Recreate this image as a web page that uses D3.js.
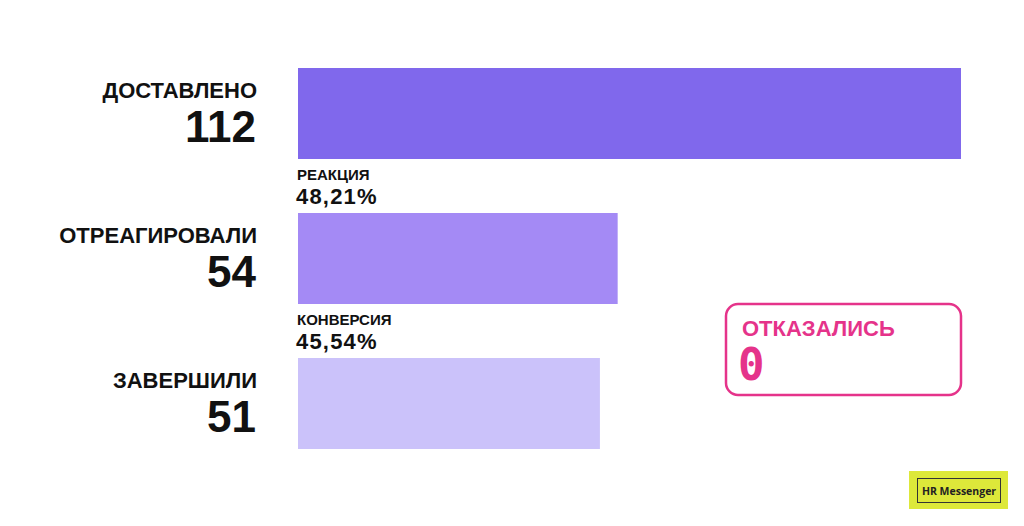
<!DOCTYPE html>
<html><head><meta charset="utf-8">
<script src="https://cdn.jsdelivr.net/npm/d3@7"></script>
<style>html,body{margin:0;padding:0;background:#fff;}</style>
</head><body>
<svg id="chart" width="1024" height="526"></svg>
<script>
const categories = ["ДОСТАВЛЕНО", "ОТРЕАГИРОВАЛИ", "ЗАВЕРШИЛИ"];
const values = [112, 54, 51];
const barColors = ["#8068EC", "#A48AF5", "#CBC2FA"];
const rateLabels = ["РЕАКЦИЯ", "КОНВЕРСИЯ"];
const rateValues = ["48,21%", "45,54%"];
const refusedLabel = "ОТКАЗАЛИСЬ";
const refusedValue = 0;

const svg = d3.select("#chart");
const font = "'Liberation Sans', Arial, sans-serif";

const x = d3.scaleLinear().domain([0, 112]).range([298, 961]);
const y = d3.scaleBand().domain(categories).range([68, 449]).paddingInner(54/145).paddingOuter(0);

svg.selectAll("rect.bar").data(categories).join("rect")
  .attr("class","bar")
  .attr("x", x(0))
  .attr("y", d => y(d))
  .attr("width", (d,i) => x(values[i]) - x(0))
  .attr("height", y.bandwidth())
  .attr("fill", (d,i) => barColors[i]);

svg.selectAll("text.cat").data(categories).join("text")
  .attr("class","cat")
  .attr("x", 257).attr("y", d => y(d) + 30)
  .attr("text-anchor","end")
  .attr("font-family", font).attr("font-weight","bold").attr("font-size", 22)
  .attr("fill","#111")
  .text(d => d);

svg.selectAll("text.val").data(categories).join("text")
  .attr("class","val")
  .attr("x", 256).attr("y", d => y(d) + 74)
  .attr("text-anchor","end")
  .attr("font-family", font).attr("font-weight","bold").attr("font-size", 44)
  .attr("fill","#111")
  .text((d,i) => values[i]);

rateLabels.forEach((lab, i) => {
  const yy = y(categories[i]) + y.bandwidth();
  svg.append("text").attr("x", 297).attr("y", yy + 21)
    .attr("font-family", font).attr("font-weight","bold").attr("font-size", 15)
    .attr("fill","#111").text(lab);
  svg.append("text").attr("x", 296).attr("y", yy + 45)
    .attr("font-family", font).attr("font-weight","bold").attr("font-size", 22)
    .attr("letter-spacing", 1.2)
    .attr("fill","#111").text(rateValues[i]);
});

// refused box
const pink = "#E5338A";
svg.append("rect").attr("x", 726).attr("y", 304).attr("width", 235).attr("height", 91)
  .attr("rx", 12).attr("fill","none").attr("stroke", pink).attr("stroke-width", 2.5);
svg.append("text").attr("x", 742).attr("y", 336)
  .attr("font-family", font).attr("font-weight","bold").attr("font-size", 22)
  .attr("fill", pink).text(refusedLabel);
svg.append("text").attr("x", 738).attr("y", 380)
  .attr("font-family", "'DejaVu Sans Mono', monospace").attr("font-weight","bold").attr("font-size", 44)
  .attr("fill", pink).text(refusedValue);

// logo
svg.append("rect").attr("x", 909).attr("y", 471).attr("width", 99).attr("height", 38).attr("fill","#DDE83A");
svg.append("rect").attr("x", 917.5).attr("y", 478.5).attr("width", 83).attr("height", 24)
  .attr("fill","none").attr("stroke","#333").attr("stroke-width", 1);
svg.append("text").attr("x", 959).attr("y", 494.5).attr("text-anchor","middle")
  .attr("font-family", "'Open Sans', sans-serif").attr("font-weight","bold").attr("font-size", 10.5)
  .attr("fill","#222").text("HR Messenger");
</script>
</body></html>
